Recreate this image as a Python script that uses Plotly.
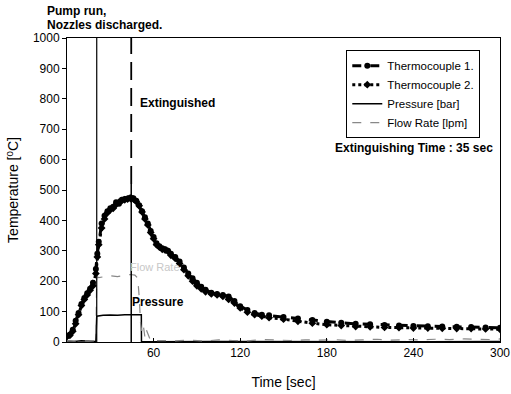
import plotly.graph_objects as go

# ---- data ----
t_tc = [0, 2, 4, 6, 8, 10, 12, 14, 16, 18, 20,
        21, 22, 24, 26, 28, 30, 32, 34, 36, 38, 40, 42, 44, 46, 48, 50,
        52, 54, 56, 58, 60, 62, 64, 66, 68, 70, 72,
        75, 78, 81, 84, 87, 90, 93, 96,
        100, 104, 108, 112, 116, 120,
        125, 130, 135, 140,
        150, 160, 170, 180, 190, 200, 210, 220, 230, 240, 250, 260, 270, 280, 290, 300]
tc1 = [20, 25, 40, 70, 95, 125, 145, 160, 175, 195, 240,
       290, 330, 390, 415, 430, 440, 445, 460, 455, 468, 470, 472, 475, 473, 465, 450,
       430, 410, 390, 365, 345, 325, 315, 308, 305, 300, 290,
       280, 265, 245, 225, 210, 195, 182, 172,
       162, 158, 155, 150, 135, 118,
       105, 95, 90, 88,
       82, 77, 72, 67, 63, 60, 58, 56, 54, 53, 52, 51, 50, 49, 48, 47]
tc2 = [18, 22, 35, 60, 90, 120, 140, 155, 170, 185, 225,
       280, 320, 375, 405, 425, 435, 440, 452, 460, 465, 468, 470, 472, 470, 462, 448,
       428, 405, 385, 360, 340, 320, 312, 305, 302, 298, 285,
       275, 258, 238, 218, 200, 185, 175, 165,
       158, 155, 150, 140, 128, 112,
       98, 90, 85, 80,
       75, 68, 62, 57, 54, 51, 50, 48, 47, 46, 46, 45, 44, 44, 43, 42]

t_flow = [0, 5, 10, 15, 20, 20.6, 22, 25, 30, 35, 40, 44, 47, 49, 50, 51, 52, 53, 54, 55,
          58, 65, 75, 85, 95, 105, 115, 125, 135, 145, 155, 165, 175, 185, 195, 205,
          215, 225, 235, 245, 255, 265, 275, 285, 295, 300]
flow = [4, 3, 5, 3, 4, 215, 212, 215, 218, 215, 220, 222, 220, 210, 150, 60, 30, 50, 15, 40,
        3, 5, 4, 6, 3, 7, 5, 4, 8, 6, 5, 7, 6, 8, 5, 7,
        9, 6, 8, 7, 9, 8, 10, 9, 8, 10]

t_press = [0, 5, 10, 15, 20, 20.6, 22, 25, 30, 35, 40, 44, 48, 50, 51.5, 51.6, 60, 100, 150, 200, 250, 300]
press = [3, 2, 4, 3, 2, 85, 86, 88, 89, 88, 90, 90, 91, 90, 90, 2, 1, 2, 1, 2, 1, 2]

t_pump = 20.6
t_ext = 44.5

x_ticks = [60, 120, 180, 240, 300]
y_ticks = [0, 100, 200, 300, 400, 500, 600, 700, 800, 900, 1000]

FONT = "Arial"

fig = go.Figure()
fig.add_trace(go.Scatter(x=t_tc, y=tc1, name="Thermocouple 1.", mode="lines+markers",
                         line=dict(color="black", width=3, dash="dash"),
                         marker=dict(symbol="circle", size=6, color="black")))
fig.add_trace(go.Scatter(x=t_tc, y=tc2, name="Thermocouple 2.", mode="lines+markers",
                         line=dict(color="black", width=3, dash="dot"),
                         marker=dict(symbol="diamond", size=6, color="black")))
fig.add_trace(go.Scatter(x=t_press, y=press, name="Pressure [bar]", mode="lines",
                         line=dict(color="black", width=1.5)))
fig.add_trace(go.Scatter(x=t_flow, y=flow, name="Flow Rate [lpm]", mode="lines",
                         line=dict(color="#888888", width=1.2, dash="dash")))

# vertical event lines
fig.add_shape(type="line", x0=t_pump, x1=t_pump, y0=0, y1=1000, xref="x", yref="y",
              line=dict(color="black", width=1.2))
fig.add_shape(type="line", x0=t_ext, x1=t_ext, y0=520, y1=1000, xref="x", yref="y",
              line=dict(color="black", width=1.8, dash="18px,8px"))
fig.add_shape(type="line", x0=t_ext, x1=t_ext, y0=0, y1=520, xref="x", yref="y",
              line=dict(color="black", width=1.5))

fig.add_annotation(text="<b>Pump run,</b>", xref="paper", yref="paper",
                   x=-0.05, y=1.089, xanchor="left", yanchor="middle", showarrow=False,
                   font=dict(family=FONT, size=12, color="black"))
fig.add_annotation(text="<b>Nozzles discharged.</b>", xref="paper", yref="paper",
                   x=-0.05, y=1.043, xanchor="left", yanchor="middle", showarrow=False,
                   font=dict(family=FONT, size=12, color="black"))
fig.add_annotation(text="<b>Extinguished</b>", x=49, y=786, xanchor="left", yanchor="middle",
                   showarrow=False, font=dict(family=FONT, size=12, color="black"))
fig.add_annotation(text="<b>Extinguishing Time : 35 sec</b>", x=296.5, y=638, xanchor="right",
                   yanchor="middle", showarrow=False, font=dict(family=FONT, size=12, color="black"))
fig.add_annotation(text="<b>Pressure</b>", x=43.5, y=130, xanchor="left", yanchor="middle",
                   showarrow=False, font=dict(family=FONT, size=12, color="black"))
fig.add_annotation(text="Flow Rate", x=42, y=247, xanchor="left", yanchor="middle",
                   showarrow=False, font=dict(family=FONT, size=11, color="#c8c8c8"))

fig.update_layout(
    width=511, height=394,
    margin=dict(l=67, r=11, t=38, b=52),
    paper_bgcolor="white", plot_bgcolor="white",
    font=dict(family=FONT, size=12, color="black"),
    showlegend=True,
    legend=dict(x=0.645, y=0.96, xanchor="left", yanchor="top",
                bgcolor="white", bordercolor="black", borderwidth=1,
                font=dict(family=FONT, size=11.5, color="black"),
                tracegroupgap=0),
    xaxis=dict(range=[0, 300], tickvals=x_ticks, ticktext=[str(v) for v in x_ticks],
               showline=True, linecolor="black", linewidth=1, mirror=True,
               ticks="inside", ticklen=4, tickcolor="black", showgrid=False, zeroline=False,
               ticklabeloverflow="allow", automargin=False,
               tickfont=dict(family=FONT, size=12),
               title=dict(text="Time [sec]", font=dict(family=FONT, size=14), standoff=17)),
    yaxis=dict(range=[0, 1000], tickvals=y_ticks, ticktext=[str(v) for v in y_ticks],
               showline=True, linecolor="black", linewidth=1, mirror=True,
               ticks="outside", ticklen=4, tickcolor="black", showgrid=False, zeroline=False,
               ticklabeloverflow="allow", automargin=False,
               tickfont=dict(family=FONT, size=12),
               title=dict(text="Temperature [<sup>0</sup>C]", font=dict(family=FONT, size=14), standoff=10)),
)

fig.write_html("out.html")
